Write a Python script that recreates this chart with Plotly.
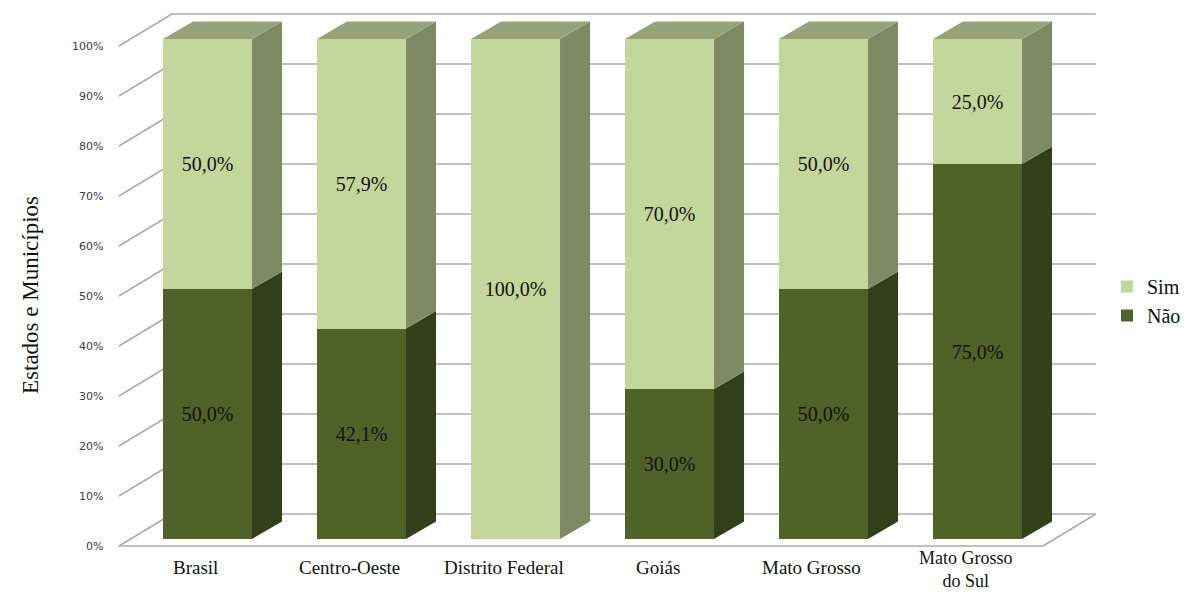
import plotly.graph_objects as go

# ---------------- data ----------------
categories = ["Brasil", "Centro-Oeste", "Distrito Federal", "Goiás", "Mato Grosso", "Mato Grosso<br>do Sul"]
sim = [50.0, 57.9, 100.0, 70.0, 50.0, 25.0]
nao = [50.0, 42.1, 0.0, 30.0, 50.0, 75.0]
y_ticks = [0, 10, 20, 30, 40, 50, 60, 70, 80, 90, 100]
y_tick_labels = [f"{t}%" for t in y_ticks]

# ---------------- style / pseudo-3D geometry ----------------
BAR_W = 0.578          # front face width (category units)
BAR_DX, BAR_DY = 0.195, 3.5    # bar depth offset
FF_DX, FF_DY = -0.075, -1.4    # front floor plane offset relative to bar plane
BW_DX, BW_DY = 0.269, 5.0      # back wall plane offset relative to bar plane

SIM_FRONT, SIM_SIDE, SIM_TOP = "#C3D69B", "#7F8A63", "#95A27A"
NAO_FRONT, NAO_SIDE, NAO_TOP = "#4F6228", "#333F1A", "#3F4E20"
GRID = "#ABABAB"

SERIF = "Liberation Serif"

# page body has an 8px margin -> figure is drawn 8px in from the window corner
W, H, OFF = 1181, 587, 8

idx = list(range(len(categories)))
n = len(categories)


def fmt(v):
    return "" if v == 0 else f"{v:.1f}".replace(".", ",") + "%"


fig = go.Figure()

fig.add_trace(go.Bar(
    x=idx, y=nao, width=BAR_W, name="Não", legendgroup="nao",
    marker=dict(color=NAO_FRONT, line=dict(width=0)),
    text=[fmt(v) for v in nao], textposition="inside", insidetextanchor="middle",
    textangle=0, constraintext="none",
    textfont=dict(family=SERIF, size=20, color="#111111"), hoverinfo="skip",
))
fig.add_trace(go.Bar(
    x=idx, y=sim, width=BAR_W, name="Sim", legendgroup="sim",
    marker=dict(color=SIM_FRONT, line=dict(width=0)),
    text=[fmt(v) for v in sim], textposition="inside", insidetextanchor="middle",
    textangle=0, constraintext="none",
    textfont=dict(family=SERIF, size=20, color="#111111"), hoverinfo="skip",
))

shapes = []


def poly(pts, color, layer="above"):
    d = "M " + " L ".join(f"{x},{y}" for x, y in pts) + " Z"
    return dict(type="path", path=d, xref="x", yref="y", fillcolor=color, layer=layer,
                line=dict(width=0))


def seg(x0, y0, x1, y1, color=GRID, width=1.5):
    return dict(type="line", x0=x0, y0=y0, x1=x1, y1=y1, xref="x", yref="y",
                line=dict(color=color, width=width), layer="below")


# back wall gridlines and left wall diagonals
left = -0.5
right = n - 0.5
for t in y_ticks:
    shapes.append(seg(left + BW_DX, t + BW_DY, right + BW_DX, t + BW_DY))
    shapes.append(seg(left + FF_DX, t + FF_DY, left + BW_DX, t + BW_DY))
# floor: front edge and right edge
shapes.append(seg(left + FF_DX, FF_DY, right + FF_DX, FF_DY))
shapes.append(seg(right + FF_DX, FF_DY, right + BW_DX, BW_DY))

# bar side and top faces
for i in idx:
    xr = i + BAR_W / 2
    xl = i - BAR_W / 2
    base = 0.0
    top_color = None
    for val, side_c, top_c in ((nao[i], NAO_SIDE, NAO_TOP), (sim[i], SIM_SIDE, SIM_TOP)):
        if val > 0:
            b0, b1 = base, base + val
            shapes.append(poly([(xr, b0), (xr + BAR_DX, b0 + BAR_DY),
                                (xr + BAR_DX, b1 + BAR_DY), (xr, b1)], side_c))
            base = b1
            top_color = top_c
    if top_color:
        shapes.append(poly([(xl, base), (xl + BAR_DX, base + BAR_DY),
                            (xr + BAR_DX, base + BAR_DY), (xr, base)], top_color))

annotations = []
# y tick labels on the front-floor plane
for t, lab in zip(y_ticks, y_tick_labels):
    annotations.append(dict(x=left + FF_DX, y=t + FF_DY, xref="x", yref="y", text=lab,
                            showarrow=False, xanchor="right", yanchor="middle", xshift=-14,
                            font=dict(family="DejaVu Sans", size=11, color="#3A3A4A")))
# category labels
for i, c in zip(idx, categories):
    if "<br>" in c:
        annotations.append(dict(x=i + FF_DX, y=FF_DY, xref="x", yref="y", text=c,
                                showarrow=False, xanchor="center", yanchor="bottom",
                                yshift=-47,
                                font=dict(family=SERIF, size=18, color="#111111")))
    else:
        annotations.append(dict(x=i + FF_DX, y=FF_DY, xref="x", yref="y", text=c,
                                showarrow=False, xanchor="center", yanchor="middle",
                                yshift=-21,
                                font=dict(family=SERIF, size=19, color="#111111")))
# axis title
annotations.append(dict(x=(30 - OFF) / W, y=1 - (295 - OFF) / H, xref="paper", yref="paper",
                        text="Estados e Municípios", textangle=-90, showarrow=False,
                        xanchor="center", yanchor="middle",
                        font=dict(family=SERIF, size=23, color="#111111")))

fig.update_layout(
    width=W, height=H, autosize=False,
    margin=dict(l=0, r=0, t=0, b=0),
    paper_bgcolor="white", plot_bgcolor="white",
    barmode="stack", bargap=0,
    xaxis=dict(range=[-1.2955, 6.3734], visible=False, fixedrange=True),
    yaxis=dict(range=[-11.2, 106.2], visible=False, fixedrange=True),
    shapes=shapes, annotations=annotations,
    showlegend=True,
    legend=dict(x=(1107 - OFF) / W, y=1 - (267 - OFF) / H, xanchor="left", yanchor="top",
                traceorder="reversed", font=dict(family=SERIF, size=20, color="#111111"),
                bgcolor="rgba(0,0,0,0)", itemclick=False, itemdoubleclick=False),
)

fig.write_html("out.html")
